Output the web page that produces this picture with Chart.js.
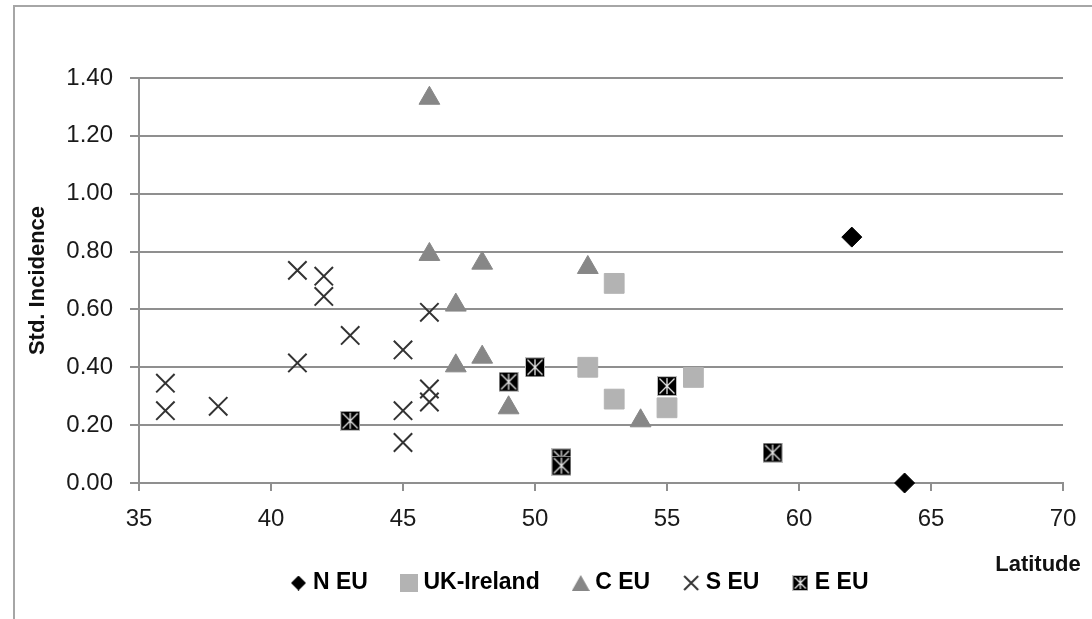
<!DOCTYPE html>
<html><head><meta charset="utf-8">
<script src="https://cdn.jsdelivr.net/npm/chart.js@4"></script>
<style>html,body{margin:0;padding:0;background:#fff;overflow:hidden}canvas{display:block}</style>
</head><body>
<canvas id="c" width="1092" height="619"></canvas>
<script>
// ---- data ----
const seriesNames = ['N EU', 'UK-Ireland', 'C EU', 'S EU', 'E EU'];
const nEuLat = [62, 64];
const nEuInc = [0.85, 0.00];
const ukLat  = [53, 52, 53, 55, 56];
const ukInc  = [0.69, 0.40, 0.29, 0.26, 0.365];
const cEuLat = [46, 46, 47, 47, 48, 48, 49, 52, 54];
const cEuInc = [1.33, 0.79, 0.615, 0.405, 0.76, 0.435, 0.26, 0.745, 0.215];
const sEuLat = [36, 36, 38, 41, 41, 42, 42, 43, 45, 45, 45, 46, 46, 46];
const sEuInc = [0.345, 0.25, 0.265, 0.735, 0.415, 0.715, 0.645, 0.51, 0.46, 0.25, 0.14, 0.59, 0.325, 0.28];
const eEuLat = [43, 49, 50, 51, 51, 55, 59];
const eEuInc = [0.215, 0.35, 0.40, 0.085, 0.06, 0.335, 0.105];
const xAxisTitle = 'Latitude';
const yAxisTitle = 'Std. Incidence';

const FONT = "'Liberation Sans', Arial, sans-serif";
const pts = (xs, ys) => xs.map((x, i) => ({x: x, y: ys[i]}));

function mk(w, h, draw) { const c = document.createElement('canvas'); c.width = w; c.height = h; draw(c.getContext('2d'), w, h); return c; }
function eEuImg(s) {
  return mk(s, s, (g) => {
    g.fillStyle = '#bdbdbd'; g.fillRect(0, 0, s, s);
    g.fillStyle = '#000'; g.fillRect(1, 1, s - 2, s - 2);
    g.strokeStyle = '#e6e6e6'; g.lineWidth = 1.3;
    g.beginPath();
    g.moveTo(s / 2, 2); g.lineTo(s / 2, s - 2);
    g.moveTo(2.5, 2.5); g.lineTo(s - 2.5, s - 2.5);
    g.moveTo(s - 2.5, 2.5); g.lineTo(2.5, s - 2.5);
    g.stroke();
  });
}
const legendImgs = [
  mk(15, 15, (g, w, h) => { g.fillStyle = '#000'; g.beginPath(); g.moveTo(w/2, 0); g.lineTo(w, h/2); g.lineTo(w/2, h); g.lineTo(0, h/2); g.closePath(); g.fill(); }),
  mk(18, 18, (g, w, h) => { g.fillStyle = '#b3b3b3'; g.fillRect(0, 0, w, h); }),
  mk(18, 16, (g, w, h) => { g.fillStyle = '#878787'; g.beginPath(); g.moveTo(w/2, 0); g.lineTo(w, h); g.lineTo(0, h); g.closePath(); g.fill(); }),
  mk(18, 18, (g, w, h) => { g.strokeStyle = '#333'; g.lineWidth = 2; g.beginPath(); g.moveTo(2, 2); g.lineTo(w-2, h-2); g.moveTo(w-2, 2); g.lineTo(2, h-2); g.stroke(); }),
  eEuImg(16)
];
const eEuPoint = eEuImg(20);

const framePlugin = {
  id: 'frame',
  beforeDraw(chart) {
    const g = chart.ctx;
    g.save();
    g.fillStyle = '#fff'; g.fillRect(0, 0, chart.width, chart.height);
    g.strokeStyle = '#a6a6a6'; g.lineWidth = 2;
    g.beginPath(); g.moveTo(14, chart.height); g.lineTo(14, 6); g.lineTo(chart.width, 6); g.stroke();
    g.restore();
  },
  afterDraw(chart) {
    const g = chart.ctx;
    g.save();
    g.font = 'bold 22px ' + FONT; g.fillStyle = '#111';
    g.textAlign = 'center'; g.textBaseline = 'middle';
    g.fillText(xAxisTitle, 1038, 565);
    g.restore();
  }
};
const legendShift = {
  id: 'legendShift',
  afterLayout(chart) { const l = chart.legend; if (l) { l.left += 38; l.right += 38; } }
};

new Chart(document.getElementById('c'), {
  type: 'scatter',
  data: {
    datasets: [
      {label: seriesNames[0], data: pts(nEuLat, nEuInc), pointStyle: 'rectRot', pointRadius: 10, backgroundColor: '#000', borderColor: '#000', borderWidth: 1},
      {label: seriesNames[1], data: pts(ukLat, ukInc), pointStyle: 'rect', pointRadius: 14, backgroundColor: '#b3b3b3', borderColor: '#b3b3b3', borderWidth: 1},
      {label: seriesNames[2], data: pts(cEuLat, cEuInc), pointStyle: 'triangle', pointRadius: 12, backgroundColor: '#878787', borderColor: '#878787', borderWidth: 1},
      {label: seriesNames[3], data: pts(sEuLat, sEuInc), pointStyle: 'crossRot', pointRadius: 13, backgroundColor: '#333', borderColor: '#333', borderWidth: 2},
      {label: seriesNames[4], data: pts(eEuLat, eEuInc), pointStyle: eEuPoint, pointRadius: 10, backgroundColor: '#000', borderColor: '#000'}
    ].map(d => Object.assign(d, {clip: false, pointHoverRadius: d.pointRadius}))
  },
  options: {
    responsive: false,
    animation: false,
    devicePixelRatio: 1,
    layout: {padding: {left: 25, right: 29, top: 78, bottom: 14.5}},
    plugins: {
      tooltip: {enabled: false},
      legend: {
        position: 'bottom',
        labels: {
          usePointStyle: true, boxWidth: 6, boxHeight: 18, padding: 38,
          color: '#000', font: {family: FONT, size: 23, weight: 'bold'},
          generateLabels(chart) {
            const items = Chart.defaults.plugins.legend.labels.generateLabels(chart);
            items.forEach((it, i) => { it.pointStyle = legendImgs[i]; });
            return items;
          }
        }
      }
    },
    scales: {
      x: {
        type: 'linear', position: 'bottom', min: 35, max: 70,
        ticks: {stepSize: 5, color: '#1a1a1a', font: {family: FONT, size: 24}, padding: 14, maxRotation: 0},
        grid: {drawOnChartArea: false, drawTicks: true, tickLength: 8, color: '#8f8f8f', lineWidth: 2},
        border: {color: '#8f8f8f', width: 2},
        afterFit(s) { s.height = 50.5; }
      },
      y: {
        min: 0, max: 1.4,
        ticks: {stepSize: 0.2, color: '#1a1a1a', font: {family: FONT, size: 24}, padding: 17, callback: v => Number(v).toFixed(2)},
        grid: {color: '#8f8f8f', lineWidth: 2, tickLength: 9},
        border: {color: '#8f8f8f', width: 2},
        title: {display: true, text: yAxisTitle, color: '#111', font: {family: FONT, size: 22, weight: 'bold'}, padding: 0},
        afterFit(s) { s.width = 114; }
      }
    }
  },
  plugins: [framePlugin, legendShift]
});
</script>
</body></html>
